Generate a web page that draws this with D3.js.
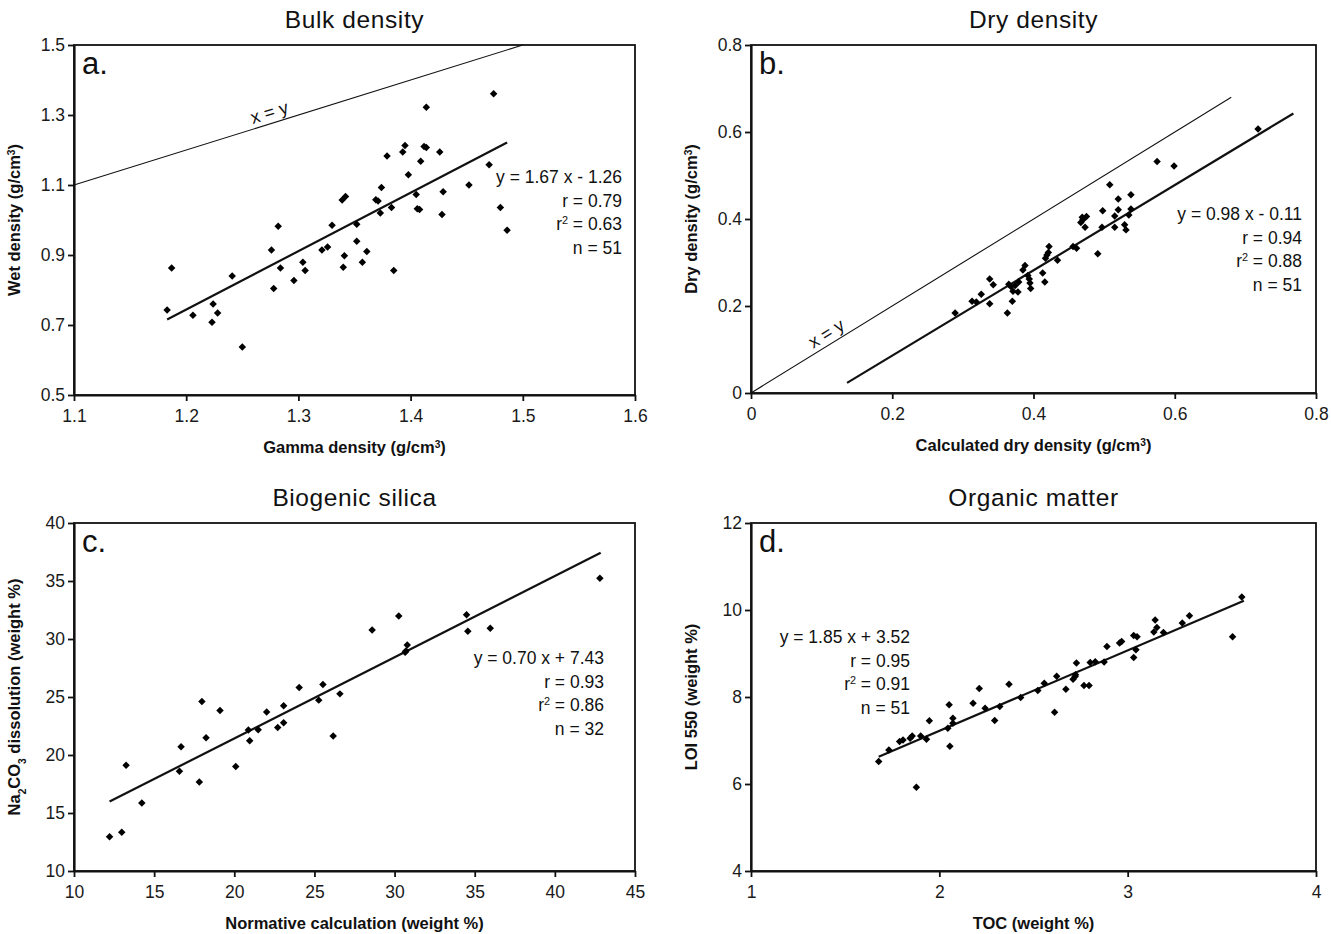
<!DOCTYPE html>
<html><head><meta charset="utf-8">
<script src="https://cdn.jsdelivr.net/npm/d3@7"></script>
<style>
body{margin:0;background:#fff;}
svg{display:block;font-family:"Liberation Sans",Arial,sans-serif;}
</style></head><body>
<svg id="chart" width="1331" height="934"></svg>
<script>
// ---------- DATA ----------
// Panel a: Bulk density
const bulkGamma = [1.183,1.187,1.206,1.224,1.223,1.228,1.241,1.250,1.276,1.282,1.278,1.284,1.296,1.304,1.306,1.321,1.326,1.330,1.339,1.342,1.341,1.340,1.352,1.352,1.357,1.361,1.369,1.371,1.374,1.373,1.379,1.383,1.385,1.393,1.395,1.398,1.405,1.406,1.408,1.409,1.412,1.414,1.414,1.426,1.429,1.428,1.452,1.470,1.474,1.480,1.486];
const bulkWet   = [0.743,0.863,0.728,0.760,0.708,0.734,0.840,0.637,0.914,0.982,0.804,0.863,0.827,0.879,0.856,0.914,0.923,0.985,1.057,1.067,0.898,0.865,0.988,0.939,0.879,0.910,1.058,1.054,1.093,1.020,1.183,1.036,0.856,1.194,1.213,1.129,1.073,1.032,1.030,1.168,1.210,1.207,1.322,1.194,1.081,1.016,1.100,1.158,1.361,1.036,0.971];
const bulkXDomain = [1.1, 1.6];
const bulkYDomain = [0.5, 1.5];
const bulkXTicks = [1.1, 1.2, 1.3, 1.4, 1.5, 1.6];
const bulkYTicks = [0.5, 0.7, 0.9, 1.1, 1.3, 1.5];
const bulkXTickLabels = ["1.1","1.2","1.3","1.4","1.5","1.6"];
const bulkYTickLabels = ["0.5","0.7","0.9","1.1","1.3","1.5"];
const bulkFit = [1.67, -1.26];          // slope, intercept
const bulkFitRange = [1.183, 1.486];
const bulkIdentityRange = [1.1, 1.5];
const bulkStats = ["y = 1.67 x - 1.26", "r = 0.79", "r2 = 0.63", "n = 51"];

// Panel b: Dry density
const dryCalc = [0.289,0.313,0.319,0.326,0.338,0.338,0.343,0.363,0.365,0.368,0.370,0.371,0.374,0.378,0.379,0.385,0.388,0.392,0.395,0.396,0.394,0.413,0.416,0.417,0.421,0.422,0.434,0.456,0.461,0.467,0.469,0.473,0.475,0.491,0.497,0.498,0.508,0.515,0.515,0.520,0.520,0.529,0.531,0.535,0.538,0.538,0.575,0.599,0.718,0.470,0.419];
const dryMeas = [0.184,0.211,0.209,0.227,0.205,0.262,0.249,0.184,0.250,0.245,0.211,0.234,0.247,0.232,0.255,0.283,0.293,0.270,0.253,0.240,0.262,0.276,0.255,0.310,0.323,0.337,0.305,0.337,0.333,0.392,0.404,0.381,0.406,0.320,0.381,0.419,0.479,0.381,0.407,0.421,0.446,0.387,0.375,0.409,0.423,0.456,0.532,0.522,0.607,0.398,0.317];
const dryXDomain = [0, 0.8];
const dryYDomain = [0, 0.8];
const dryXTicks = [0, 0.2, 0.4, 0.6, 0.8];
const dryYTicks = [0, 0.2, 0.4, 0.6, 0.8];
const dryXTickLabels = ["0","0.2","0.4","0.6","0.8"];
const dryYTickLabels = ["0","0.2","0.4","0.6","0.8"];
const dryFit = [0.98, -0.11];
const dryFitRange = [0.136, 0.768];
const dryIdentityRange = [0, 0.68];
const dryStats = ["y = 0.98 x - 0.11", "r = 0.94", "r2 = 0.88", "n = 51"];

// Panel c: Biogenic silica
const silicaNorm = [12.22,12.98,13.25,14.23,16.58,16.68,17.82,17.98,18.24,19.11,20.09,20.88,20.96,21.49,22.02,22.71,23.08,23.08,24.05,25.27,25.53,26.17,26.59,28.60,30.26,30.66,30.79,34.49,34.57,35.97,42.81,30.71];
const silicaNa  = [12.95,13.35,19.11,15.87,18.60,20.72,17.68,24.61,21.49,23.84,19.00,22.15,21.23,22.18,23.70,22.38,24.24,22.78,25.82,24.73,26.07,21.63,25.27,30.77,31.98,28.85,29.48,32.09,30.66,30.92,35.24,28.96];
const silicaXDomain = [10, 45];
const silicaYDomain = [10, 40];
const silicaXTicks = [10, 15, 20, 25, 30, 35, 40, 45];
const silicaYTicks = [10, 15, 20, 25, 30, 35, 40];
const silicaXTickLabels = ["10","15","20","25","30","35","40","45"];
const silicaYTickLabels = ["10","15","20","25","30","35","40"];
const silicaFit = [0.70, 7.43];
const silicaFitRange = [12.22, 42.86];
const silicaStats = ["y = 0.70 x + 7.43", "r = 0.93", "r2 = 0.86", "n = 32"];

// Panel d: Organic matter
const tocVal = [1.678,1.732,1.789,1.807,1.845,1.856,1.878,1.901,1.932,1.947,2.045,2.052,2.056,2.072,2.072,2.179,2.212,2.243,2.294,2.321,2.370,2.432,2.523,2.557,2.612,2.623,2.672,2.710,2.721,2.723,2.728,2.768,2.795,2.801,2.828,2.875,2.890,2.957,2.968,3.032,3.044,3.032,3.050,3.139,3.146,3.155,3.190,3.290,3.328,3.557,3.606];
const loiVal = [6.516,6.784,6.976,7.014,7.053,7.106,5.925,7.106,7.030,7.452,7.283,7.820,6.869,7.513,7.398,7.858,8.195,7.743,7.459,7.782,8.295,7.989,8.150,8.318,7.651,8.479,8.180,8.410,8.472,8.510,8.779,8.265,8.265,8.794,8.809,8.802,9.162,9.239,9.277,8.909,9.085,9.415,9.384,9.492,9.768,9.599,9.484,9.699,9.868,9.384,10.297];
const tocXDomain = [1, 4];
const tocYDomain = [4, 12];
const tocXTicks = [1, 2, 3, 4];
const tocYTicks = [4, 6, 8, 10, 12];
const tocXTickLabels = ["1","2","3","4"];
const tocYTickLabels = ["4","6","8","10","12"];
const tocFit = [1.85, 3.52];
const tocFitRange = [1.678, 3.617];
const tocStats = ["y = 1.85 x + 3.52", "r = 0.95", "r2 = 0.91", "n = 51"];

// ---------- DRAWING ----------
const svg = d3.select("#chart");
const INK = "#111";

function addRich(sel, parts){
  parts.forEach(([t,k])=>{
    const ts = sel.append("tspan").text(t);
    if(k==="sup"){ ts.attr("baseline-shift","super").attr("font-size","62%"); }
    if(k==="sub"){ ts.attr("baseline-shift","sub").attr("font-size","62%"); }
  });
}

function statParts(s){
  if(s.startsWith("r2")) return [["r","n"],["2","sup"],[s.slice(2),"n"]];
  return [[s,"n"]];
}

function drawPanel(p){
  const g = svg.append("g");
  const x = d3.scaleLinear().domain(p.xDomain).range([p.left, p.right]);
  const y = d3.scaleLinear().domain(p.yDomain).range([p.bottom, p.top]);

  // frame
  g.append("rect").attr("x",p.left).attr("y",p.top)
    .attr("width",p.right-p.left).attr("height",p.bottom-p.top)
    .attr("fill","none").attr("stroke",INK).attr("stroke-width",1.8);

  // identity line
  if(p.identity){
    g.append("line")
      .attr("x1",x(p.identity[0])).attr("y1",y(p.identity[0]))
      .attr("x2",x(p.identity[1])).attr("y2",y(p.identity[1]))
      .attr("stroke",INK).attr("stroke-width",1.1);
    const a = p.idLabelX;
    const ang = Math.atan2(y(a)-y(a+0.01), x(a+0.01)-x(a))*180/Math.PI;
    g.append("text")
      .attr("transform",`translate(${x(a)},${y(a)}) rotate(${-ang})`)
      .attr("dy",-5).attr("text-anchor","middle")
      .attr("font-size",18).attr("fill",INK).text("x = y");
  }

  // regression line
  g.append("line")
    .attr("x1",x(p.fitRange[0])).attr("y1",y(p.fit[0]*p.fitRange[0]+p.fit[1]))
    .attr("x2",x(p.fitRange[1])).attr("y2",y(p.fit[0]*p.fitRange[1]+p.fit[1]))
    .attr("stroke",INK).attr("stroke-width",2.2);

  // points
  const sym = d3.symbol().type(d3.symbolSquare).size(28);
  g.selectAll("path.pt").data(p.xs.map((v,i)=>[v,p.ys[i]])).join("path")
    .attr("class","pt")
    .attr("transform",d=>`translate(${x(d[0])},${y(d[1])}) rotate(45)`)
    .attr("d",sym).attr("fill","#000");

  // axes
  const xa = d3.axisBottom(x).tickValues(p.xTicks).tickFormat((d,i)=>p.xTickLabels[i]).tickSize(6).tickSizeOuter(0).tickPadding(9);
  const ya = d3.axisLeft(y).tickValues(p.yTicks).tickFormat((d,i)=>p.yTickLabels[i]).tickSize(6).tickSizeOuter(0).tickPadding(3);
  const gx = g.append("g").attr("transform",`translate(0,${p.bottom})`).call(xa);
  const gy = g.append("g").attr("transform",`translate(${p.left},0)`).call(ya);
  [gx,gy].forEach(ax=>{
    ax.attr("font-size",null).attr("font-family",null);
    ax.select(".domain").attr("stroke",INK).attr("stroke-width",2.2);
    ax.selectAll(".tick line").attr("stroke",INK).attr("stroke-width",1.8);
    ax.selectAll(".tick text").style("font-size","17.5px").attr("fill","#1a1a1a")
      .style("font-family","'Liberation Sans',Arial,sans-serif");
  });

  // panel letter
  g.append("text").attr("x",p.left+8).attr("y",p.top+29)
    .attr("font-size",31).attr("fill",INK).text(p.letter);

  // title
  g.append("text").attr("x",(p.left+p.right)/2).attr("y",p.top-17)
    .attr("text-anchor","middle").attr("font-size",24.5).attr("letter-spacing",0.6)
    .attr("fill",INK).text(p.title);

  // x axis title
  const xt = g.append("text").attr("x",(p.left+p.right)/2).attr("y",p.bottom+58)
    .attr("text-anchor","middle").attr("font-size",16.5).attr("font-weight","bold").attr("fill",INK);
  addRich(xt, p.xTitle);

  // y axis title
  const yt = g.append("text")
    .attr("transform",`translate(${p.left-54},${(p.top+p.bottom)/2}) rotate(-90)`)
    .attr("text-anchor","middle").attr("font-size",16.5).attr("font-weight","bold").attr("fill",INK);
  addRich(yt, p.yTitle);

  // stats
  p.stats.forEach((s,i)=>{
    const t = g.append("text").attr("x",p.statX).attr("y",p.statY+i*23.6)
      .attr("text-anchor","end").attr("font-size",17.5).attr("fill",INK);
    addRich(t, statParts(s));
  });
}

drawPanel({
  left:74,right:635,top:45,bottom:395,
  xDomain:bulkXDomain,yDomain:bulkYDomain,xs:bulkGamma,ys:bulkWet,
  xTicks:bulkXTicks,yTicks:bulkYTicks,xTickLabels:bulkXTickLabels,yTickLabels:bulkYTickLabels,
  fit:bulkFit,fitRange:bulkFitRange,identity:bulkIdentityRange,idLabelX:1.277,
  letter:"a.",title:"Bulk density",
  xTitle:[["Gamma density (g/cm","n"],["3","sup"],[")","n"]],
  yTitle:[["Wet density (g/cm","n"],["3","sup"],[")","n"]],
  stats:bulkStats,statX:622,statY:183
});
drawPanel({
  left:751,right:1316,top:45,bottom:393,
  xDomain:dryXDomain,yDomain:dryYDomain,xs:dryCalc,ys:dryMeas,
  xTicks:dryXTicks,yTicks:dryYTicks,xTickLabels:dryXTickLabels,yTickLabels:dryYTickLabels,
  fit:dryFit,fitRange:dryFitRange,identity:dryIdentityRange,idLabelX:0.115,
  letter:"b.",title:"Dry density",
  xTitle:[["Calculated dry density (g/cm","n"],["3","sup"],[")","n"]],
  yTitle:[["Dry density (g/cm","n"],["3","sup"],[")","n"]],
  stats:dryStats,statX:1302,statY:220
});
drawPanel({
  left:74,right:635,top:523,bottom:871,
  xDomain:silicaXDomain,yDomain:silicaYDomain,xs:silicaNorm,ys:silicaNa,
  xTicks:silicaXTicks,yTicks:silicaYTicks,xTickLabels:silicaXTickLabels,yTickLabels:silicaYTickLabels,
  fit:silicaFit,fitRange:silicaFitRange,
  letter:"c.",title:"Biogenic silica",
  xTitle:[["Normative calculation (weight %)","n"]],
  yTitle:[["Na","n"],["2","sub"],["CO","n"],["3","sub"],[" dissolution (weight %)","n"]],
  stats:silicaStats,statX:604,statY:664
});
drawPanel({
  left:751,right:1316,top:523,bottom:871,
  xDomain:tocXDomain,yDomain:tocYDomain,xs:tocVal,ys:loiVal,
  xTicks:tocXTicks,yTicks:tocYTicks,xTickLabels:tocXTickLabels,yTickLabels:tocYTickLabels,
  fit:tocFit,fitRange:tocFitRange,
  letter:"d.",title:"Organic matter",
  xTitle:[["TOC (weight %)","n"]],
  yTitle:[["LOI 550 (weight %)","n"]],
  stats:tocStats,statX:910,statY:643
});
</script>
</body></html>
